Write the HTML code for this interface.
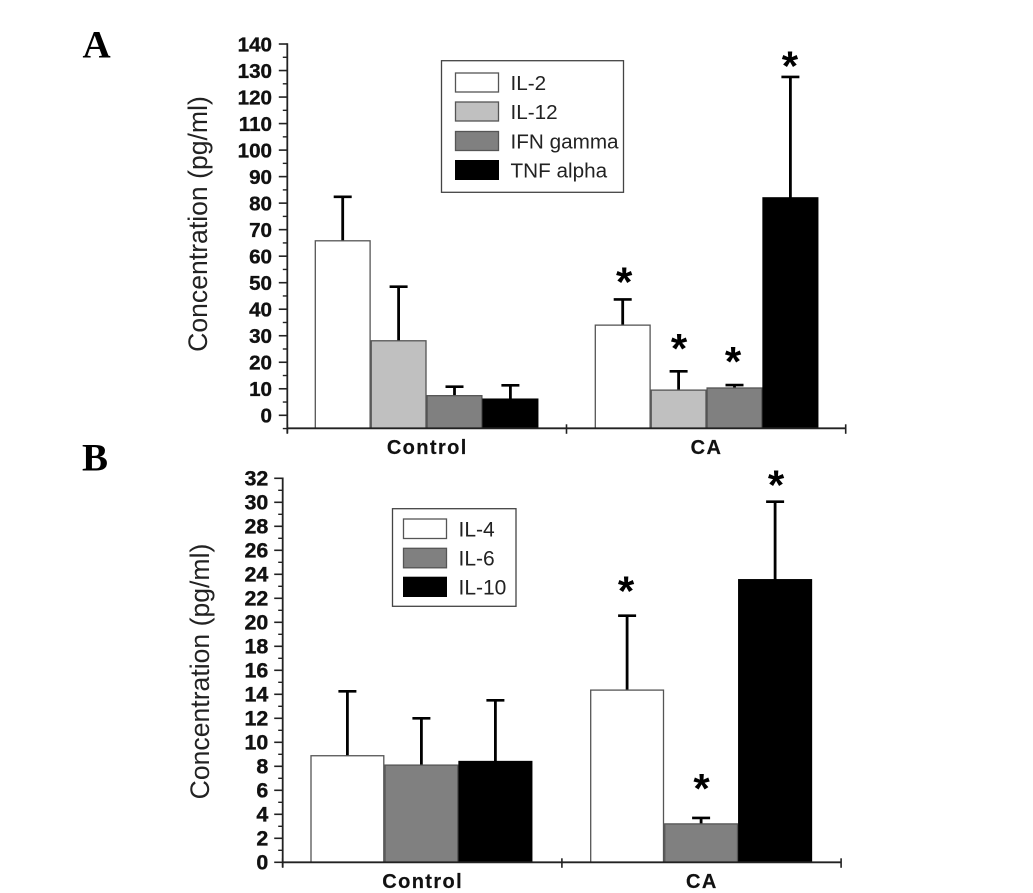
<!DOCTYPE html>
<html lang="en">
<head>
<meta charset="utf-8">
<title>Cytokine concentrations</title>
<style>
html,body{margin:0;padding:0;background:#fff;width:1033px;height:893px;overflow:hidden}
svg{display:block}
text{font-family:"Liberation Sans",Arial,sans-serif;fill:#111}
.tick{font-weight:bold;text-anchor:end;stroke:#111;stroke-width:.35}
.cat{font-weight:bold;font-size:20px;letter-spacing:1.4px;text-anchor:middle;stroke:#111;stroke-width:.2}
.ytitle{font-size:26.6px;text-anchor:middle;fill:#222}
.leg{font-size:20.7px;fill:#222}
.legb{font-size:21px;fill:#222}
.panel{font-family:"Liberation Serif",serif;font-weight:bold;font-size:39px;fill:#000}
.star{font-weight:bold;font-size:42px;text-anchor:middle;fill:#000}
</style>
</head>
<body>
<svg id="fig" xmlns="http://www.w3.org/2000/svg" width="1033" height="893" viewBox="0 0 1033 893">
  <rect x="0" y="0" width="1033" height="893" fill="#fff"/>
  <text class="panel" x="82.5" y="57.5">A</text>
  <text class="panel" x="82" y="470.5">B</text>
  <g id="chartA"></g>
  <g id="chartB"></g>

  <g>
    <rect x="441.5" y="60.7" width="182" height="131.6" fill="#fff" stroke="#444" stroke-width="1.3"/>
    <g>
      <rect x="455.5" y="73" width="43" height="19" fill="#fff" stroke="#555" stroke-width="1.3"/>
      <text class="leg" x="510.5" y="90">IL-2</text>
    </g>
    <g>
      <rect x="455.5" y="102" width="43" height="19" fill="#c0c0c0" stroke="#555" stroke-width="1.3"/>
      <text class="leg" x="510.5" y="119">IL-12</text>
    </g>
    <g>
      <rect x="455.5" y="131.5" width="43" height="19" fill="#808080" stroke="#555" stroke-width="1.3"/>
      <text class="leg" x="510.5" y="148.3">IFN gamma</text>
    </g>
    <g>
      <rect x="455" y="160" width="44" height="20" fill="#000"/>
      <text class="leg" x="510.5" y="177.3">TNF alpha</text>
    </g>
  </g>

  <g>
    <rect x="392.5" y="508.7" width="123.5" height="97.6" fill="#fff" stroke="#444" stroke-width="1.3"/>
    <g>
      <rect x="403.5" y="519" width="43" height="19.5" fill="#fff" stroke="#555" stroke-width="1.3"/>
      <text class="legb" x="458.5" y="536.7">IL-4</text>
    </g>
    <g>
      <rect x="403.5" y="548.3" width="43" height="19.5" fill="#808080" stroke="#555" stroke-width="1.3"/>
      <text class="legb" x="458.5" y="565.5">IL-6</text>
    </g>
    <g>
      <rect x="403" y="576.7" width="44" height="20.3" fill="#000"/>
      <text class="legb" x="458.5" y="594.7">IL-10</text>
    </g>
  </g>
</svg>
<script>
// Shared categories
const categories = ['Control', 'CA'];

// Panel A data
const seriesA = ['IL-2', 'IL-12', 'IFN gamma', 'TNF alpha'];
const meansAControl = [65.8, 28.1, 7.4, 6.1];
const meansACA = [34, 9.5, 10.3, 82];
const errTopsAControl = [82.4, 48.5, 10.8, 11.3];
const errTopsACA = [43.7, 16.6, 11.4, 127.6];
// height of each significance star above its error cap, in axis units (null = no star)
const starLiftAControl = [null, null, null, null];
const starLiftACA = [2.5, 4.6, 4.9, 0];
const ticksA = [0, 10, 20, 30, 40, 50, 60, 70, 80, 90, 100, 110, 120, 130, 140];

// Panel B data
const seriesB = ['IL-4', 'IL-6', 'IL-10'];
const meansBControl = [8.88, 8.1, 8.4];
const meansBCA = [14.35, 3.2, 23.55];
const errTopsBControl = [14.25, 12, 13.5];
const errTopsBCA = [20.55, 3.7, 30.05];
const starLiftBControl = [null, null, null];
const starLiftBCA = [1.14, 1.57, 0.48];
const ticksB = [0, 2, 4, 6, 8, 10, 12, 14, 16, 18, 20, 22, 24, 26, 28, 30, 32];

const NS = 'http://www.w3.org/2000/svg';
function mk(parent, tag, attrs, txt) {
  const el = document.createElementNS(NS, tag);
  for (const k in attrs) el.setAttribute(k, attrs[k]);
  if (txt !== undefined) el.textContent = txt;
  parent.appendChild(el);
  return el;
}
function slug(s) { return s.toLowerCase().replace(/[^a-z0-9]+/g, '-'); }

function drawChart(cfg) {
  const g = document.getElementById(cfg.id);
  const y = v => cfg.y0 - v * cfg.pxPerUnit;
  const groupCenter = i => cfg.axisLeft + (i + 0.5) * cfg.band;
  const base = cfg.baseY;
  const n = cfg.series.length;

  categories.forEach((cat, ci) => {
    cfg.means[ci].forEach((m, si) => {
      const barLeft = groupCenter(ci) + cfg.barShift[ci] + (si - n / 2) * cfg.step;
      const cx = barLeft + cfg.barW / 2;
      const fill = cfg.colors[si];
      const isBlack = fill === '#000';

      const stem = mk(g, 'line', {x1: cx, x2: cx, y1: y(cfg.errTops[ci][si]), y2: y(m), stroke: '#000', 'stroke-width': 2.8});
      
      

      const cap = mk(g, 'line', {x1: cx - 9, x2: cx + 9, y1: y(cfg.errTops[ci][si]), y2: y(cfg.errTops[ci][si]), stroke: '#000', 'stroke-width': 2.6});
      
      

      const bar = mk(g, 'rect', {x: barLeft, y: y(m), width: cfg.barW, height: base - y(m), fill: fill, stroke: isBlack ? '#000' : '#555', 'stroke-width': 1.3});
      
      

      const lift = cfg.starLifts[ci][si];
      if (lift !== null) {
        const star = mk(g, 'text', {class: 'star', x: cx + cfg.starDx[si], y: y(cfg.errTops[ci][si] + lift) + 3.7}, '*');
        
        
      }
    });
  });

  const yAxis = mk(g, 'line', {x1: cfg.axisLeft, x2: cfg.axisLeft, y1: y(cfg.ticks[cfg.ticks.length - 1]) - 0.8, y2: base + 5, stroke: '#222', 'stroke-width': 1.8});
  
  

  const xAxis = mk(g, 'line', {x1: cfg.axisLeft, x2: cfg.axisLeft + 2 * cfg.band, y1: base, y2: base, stroke: '#222', 'stroke-width': 1.8});
  
  

  cfg.ticks.forEach((t, i) => {
    const tk = mk(g, 'line', {x1: cfg.axisLeft - 8.5, x2: cfg.axisLeft, y1: y(t), y2: y(t), stroke: '#222', 'stroke-width': 1.6});
    
    

    const lb = mk(g, 'text', {class: 'tick', x: cfg.labelRight, y: y(t) + 7.3, 'font-size': cfg.tickSize}, String(t));
    
    

    if (i < cfg.ticks.length - 1) {
      const midV = (t + cfg.ticks[i + 1]) / 2;
      const mn = mk(g, 'line', {x1: cfg.axisLeft - 4.5, x2: cfg.axisLeft, y1: y(midV), y2: y(midV), stroke: '#222', 'stroke-width': 1.4});
      
      
    }
  });
  if (cfg.extraMinor) {
    const vBelow = cfg.ticks[0] - (cfg.ticks[1] - cfg.ticks[0]) / 2;
    const mn = mk(g, 'line', {x1: cfg.axisLeft - 4.5, x2: cfg.axisLeft, y1: y(vBelow), y2: y(vBelow), stroke: '#222', 'stroke-width': 1.4});
    
    
  }

  [0, 1, 2].forEach(i => {
    const x = cfg.axisLeft + i * cfg.band;
    const tk = mk(g, 'line', {x1: x, x2: x, y1: base - 4, y2: base + 5.5, stroke: '#222', 'stroke-width': 1.6});
    
    
  });

  categories.forEach((cat, ci) => {
    const lb = mk(g, 'text', {class: 'cat', x: groupCenter(ci) + 0.4, y: cfg.catY}, cat);
    
    
  });

  const yt = mk(g, 'text', {class: 'ytitle', transform: 'translate(' + cfg.titleX + ',' + cfg.titleY + ') rotate(-90)'}, 'Concentration (pg/ml)');
  
  
}

drawChart({
  id: 'chartA', series: seriesA,
  means: [meansAControl, meansACA], errTops: [errTopsAControl, errTopsACA],
  starLifts: [starLiftAControl, starLiftACA], ticks: ticksA,
  colors: ['#fff', '#c0c0c0', '#808080', '#000'],
  axisLeft: 287.3, band: 279.2, y0: 415.3, pxPerUnit: 2.652, baseY: 428.3,
  barW: 54.8, step: 55.9, barShift: [0.2, 1.0], labelRight: 272, catY: 454, tickSize: 20.6,
  titleX: 207, titleY: 224, starDx: [1.5, 0.5, -1.5, -0.5], extraMinor: true
});
drawChart({
  id: 'chartB', series: seriesB,
  means: [meansBControl, meansBCA], errTops: [errTopsBControl, errTopsBCA],
  starLifts: [starLiftBControl, starLiftBCA], ticks: ticksB,
  colors: ['#fff', '#808080', '#000'],
  axisLeft: 282.7, band: 279.2, y0: 862.3, pxPerUnit: 12, baseY: 862.3,
  barW: 72.8, step: 74, barShift: [-0.3, 0.2], labelRight: 268.3, catY: 888, tickSize: 21.4,
  titleX: 209, titleY: 671.5, starDx: [-1, 0.5, 1], extraMinor: false
});
</script>
</body>
</html>
